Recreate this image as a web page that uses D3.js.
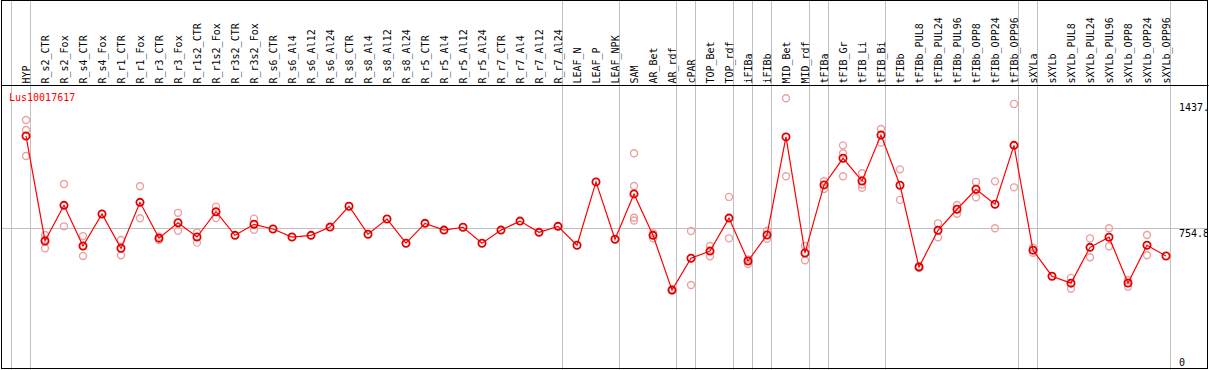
<!DOCTYPE html>
<html>
<head>
<meta charset="utf-8">
<script src="https://cdn.jsdelivr.net/npm/d3@7"></script>
<style>
html,body{margin:0;padding:0;background:#fff;}
svg{display:block;}
text{font-family:"DejaVu Sans Mono",monospace;font-size:10px;}
</style>
</head>
<body>
<svg id="chart" width="1209" height="370"></svg>
<script>
const title = "Lus10017617";
const categories = ["HYP","R_s2_CTR","R_s2_Fox","R_s4_CTR","R_s4_Fox","R_r1_CTR","R_r1_Fox","R_r3_CTR","R_r3_Fox","R_r1s2_CTR","R_r1s2_Fox","R_r3s2_CTR","R_r3s2_Fox","R_s6_CTR","R_s6_Al4","R_s6_Al12","R_s6_Al24","R_s8_CTR","R_s8_Al4","R_s8_Al12","R_s8_Al24","R_r5_CTR","R_r5_Al4","R_r5_Al12","R_r5_Al24","R_r7_CTR","R_r7_Al4","R_r7_Al12","R_r7_Al24","LEAF_N","LEAF_P","LEAF_NPK","SAM","AR_Bet","AR_rdf","cPAR","TOP_Bet","TOP_rdf","iFIBa","iFIBb","MID_Bet","MID_rdf","tFIBa","tFIB_Gr","tFIB_Li","tFIB_Bi","tFIBb","tFIBb_PUL8","tFIBb_PUL24","tFIBb_PUL96","tFIBb_OPP8","tFIBb_OPP24","tFIBb_OPP96","sXYLa","sXYLb","sXYLb_PUL8","sXYLb_PUL24","sXYLb_PUL96","sXYLb_OPP8","sXYLb_OPP24","sXYLb_OPP96"];
const means = [1243,683,873,656,827,644,889,698,780,704,839,713,772,747,704,713,757,868,719,800,671,777,741,756,671,741,789,729,761,660,998,692,934,713,421,591,629,805,576,715,1238,619,982,1124,1003,1248,980,544,740,852,959,879,1193,634,495,458,649,703,459,660,603];
const replicates = [[1328,1275,1136],[715,644,690],[987,761],[709,603,656],[],[688,607],[975,804],[706,688],[833,737],[728,674],[866,805],[],[802,743],[],[],[],[],[],[],[],[],[],[],[],[],[],[],[],[],[],[],[],[1151,976,807,792],[725,697],[425,418],[736,448],[656,601],[918,697],[585,560],[738,695],[1444,1028],[656,580],[1003,960],[1193,1151,1028],[1044,984,967],[1280,1208],[1065,902],[549,540],[777,703],[875,828],[998,916],[1001,751],[1414,969],[647,620],[],[486,428],[697,596],[751,655],[475,439],[715,607],[]];
const groupEnds = ["HYP","R_r7_Al24","LEAF_NPK","AR_rdf","cPAR","TOP_rdf","iFIBa","iFIBb","MID_rdf","tFIBa","tFIB_Bi","tFIBb_OPP96","sXYLa","sXYLb_OPP96"];
const tickValues = [0, 754.8, 1437];
const tickLabels = ["0", "754.8", "1437."];
const yMax = 1509.6;

(function () {
const W = 1209, H = 370;
const svg = d3.select("#chart");
const bl = 1.5, br = 1208.5, bt = 0.5, bb = 369.5, headerY = 85.5;

const x = d3.scalePoint().domain(categories).range([26, 26 + 19 * (categories.length - 1)]);
const y = d3.scaleLinear().domain([0, yMax]).range([369, 86]);

svg.append("defs").append("clipPath").attr("id","clip")
  .append("rect").attr("x", bl).attr("y", bt).attr("width", br - bl - 0.5).attr("height", bb - bt);

const g = svg.append("g").attr("clip-path","url(#clip)");

// vertical group separators
const sepX = [x(categories[0]) - 19 + 4.5].concat(groupEnds.map(c => x(c) + 4.5));
g.selectAll("line.sep").data(sepX).enter().append("line")
  .attr("x1", d => d).attr("x2", d => d).attr("y1", 0).attr("y2", H)
  .attr("stroke", "#c0c0c0").attr("stroke-width", 1);

// midline
const my = Math.round(y(tickValues[1])) + 0.5;
g.append("line").attr("x1", bl).attr("x2", br).attr("y1", my).attr("y2", my)
  .attr("stroke", "#c0c0c0").attr("stroke-width", 1);

// category labels
g.selectAll("text.cat").data(categories).enter().append("text")
  .attr("transform", d => `translate(${x(d) + 3.5},83.5) rotate(-90)`)
  .attr("text-anchor", "start").attr("fill", "#000").text(d => d);

// title
g.append("text").attr("x", 9).attr("y", 100.5).attr("fill", "#ff0000").text(title);

// tick labels
g.selectAll("text.tick").data(tickValues).enter().append("text")
  .attr("x", 1179)
  .attr("y", d => Math.max(111, Math.min(365.5, y(d) + 9)))
  .attr("fill", "#000").text((d, i) => tickLabels[i]);

// replicates
const reps = [];
categories.forEach((c, i) => replicates[i].forEach(v => reps.push({c, v})));
g.selectAll("circle.rep").data(reps).enter().append("circle")
  .attr("cx", d => x(d.c)).attr("cy", d => y(d.v)).attr("r", 3.5)
  .attr("fill", "none").attr("stroke", "#eda0a0").attr("stroke-width", 1.4);

// line
const line = d3.line().x((d, i) => x(categories[i])).y(d => y(d));
g.append("path").datum(means).attr("d", line).attr("fill", "none").attr("stroke", "#ff0000").attr("stroke-width", 1.2);

// mean circles
g.selectAll("circle.mean").data(means).enter().append("circle")
  .attr("cx", (d, i) => x(categories[i])).attr("cy", d => y(d)).attr("r", 3.6)
  .attr("fill", "none").attr("stroke", "#e00000").attr("stroke-width", 1.8);

// borders
svg.append("rect").attr("x", bl).attr("y", bt).attr("width", br - bl - 1).attr("height", bb - bt - 1)
  .attr("fill", "none").attr("stroke", "#000").attr("stroke-width", 1);
svg.append("line").attr("x1", bl).attr("x2", br).attr("y1", headerY).attr("y2", headerY)
  .attr("stroke", "#000").attr("stroke-width", 1);
})();
</script>
</body>
</html>
